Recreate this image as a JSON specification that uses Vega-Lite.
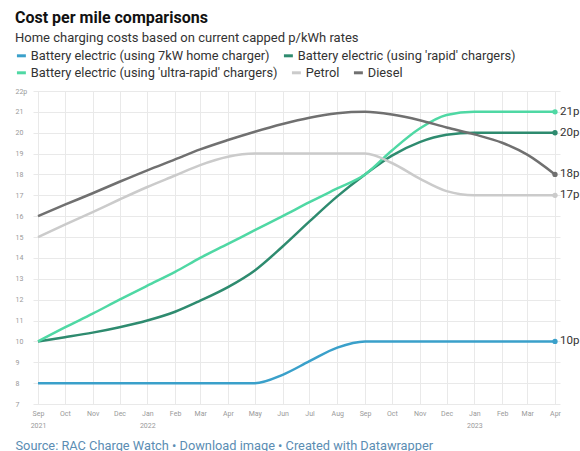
{
  "$schema": "https://vega.github.io/schema/vega-lite/v6.json",
  "autosize": "none",
  "width": 527,
  "height": 313,
  "padding": {"left": 33, "top": 91, "right": 20, "bottom": 47},
  "background": "white",
  "config": {
    "view": {"stroke": null},
    "font": "Roboto",
    "legend": {
      "title": null,
      "orient": "none",
      "direction": "horizontal",
      "symbolType": "stroke",
      "symbolStrokeWidth": 3,
      "symbolSize": 80,
      "labelFont": "Roboto",
      "labelFontSize": 12.8,
      "labelColor": "#333333",
      "labelLimit": 400,
      "columnPadding": 7,
      "labelOffset": 3
    }
  },
  "title": {
    "text": "Cost per mile comparisons",
    "subtitle": "Home charging costs based on current capped p/kWh rates",
    "anchor": "start",
    "frame": "group",
    "dx": -18,
    "font": "Roboto",
    "fontSize": 16,
    "fontWeight": "bold",
    "color": "#111111",
    "subtitleFont": "Roboto",
    "subtitleFontSize": 13,
    "subtitleColor": "#333333",
    "subtitlePadding": 6,
    "offset": 4
  },
  "data": {
    "values": [
      {"date": "2021-09-01", "series": "Battery electric (using 7kW home charger)", "value": 8},
      {"date": "2021-10-01", "series": "Battery electric (using 7kW home charger)", "value": 8},
      {"date": "2021-11-01", "series": "Battery electric (using 7kW home charger)", "value": 8},
      {"date": "2021-12-01", "series": "Battery electric (using 7kW home charger)", "value": 8},
      {"date": "2022-01-01", "series": "Battery electric (using 7kW home charger)", "value": 8},
      {"date": "2022-02-01", "series": "Battery electric (using 7kW home charger)", "value": 8},
      {"date": "2022-03-01", "series": "Battery electric (using 7kW home charger)", "value": 8},
      {"date": "2022-04-01", "series": "Battery electric (using 7kW home charger)", "value": 8},
      {"date": "2022-05-01", "series": "Battery electric (using 7kW home charger)", "value": 8},
      {"date": "2022-06-01", "series": "Battery electric (using 7kW home charger)", "value": 8.4},
      {"date": "2022-07-01", "series": "Battery electric (using 7kW home charger)", "value": 9.05},
      {"date": "2022-08-01", "series": "Battery electric (using 7kW home charger)", "value": 9.7},
      {"date": "2022-09-01", "series": "Battery electric (using 7kW home charger)", "value": 10},
      {"date": "2022-10-01", "series": "Battery electric (using 7kW home charger)", "value": 10},
      {"date": "2022-11-01", "series": "Battery electric (using 7kW home charger)", "value": 10},
      {"date": "2022-12-01", "series": "Battery electric (using 7kW home charger)", "value": 10},
      {"date": "2023-01-01", "series": "Battery electric (using 7kW home charger)", "value": 10},
      {"date": "2023-02-01", "series": "Battery electric (using 7kW home charger)", "value": 10},
      {"date": "2023-03-01", "series": "Battery electric (using 7kW home charger)", "value": 10},
      {"date": "2023-04-01", "series": "Battery electric (using 7kW home charger)", "value": 10},

      {"date": "2021-09-01", "series": "Battery electric (using 'rapid' chargers)", "value": 10},
      {"date": "2021-10-01", "series": "Battery electric (using 'rapid' chargers)", "value": 10.2},
      {"date": "2021-11-01", "series": "Battery electric (using 'rapid' chargers)", "value": 10.42},
      {"date": "2021-12-01", "series": "Battery electric (using 'rapid' chargers)", "value": 10.68},
      {"date": "2022-01-01", "series": "Battery electric (using 'rapid' chargers)", "value": 11.0},
      {"date": "2022-02-01", "series": "Battery electric (using 'rapid' chargers)", "value": 11.42},
      {"date": "2022-03-01", "series": "Battery electric (using 'rapid' chargers)", "value": 11.95},
      {"date": "2022-04-01", "series": "Battery electric (using 'rapid' chargers)", "value": 12.6},
      {"date": "2022-05-01", "series": "Battery electric (using 'rapid' chargers)", "value": 13.4},
      {"date": "2022-06-01", "series": "Battery electric (using 'rapid' chargers)", "value": 14.55},
      {"date": "2022-07-01", "series": "Battery electric (using 'rapid' chargers)", "value": 15.75},
      {"date": "2022-08-01", "series": "Battery electric (using 'rapid' chargers)", "value": 16.95},
      {"date": "2022-09-01", "series": "Battery electric (using 'rapid' chargers)", "value": 18.0},
      {"date": "2022-10-01", "series": "Battery electric (using 'rapid' chargers)", "value": 18.9},
      {"date": "2022-11-01", "series": "Battery electric (using 'rapid' chargers)", "value": 19.55},
      {"date": "2022-12-01", "series": "Battery electric (using 'rapid' chargers)", "value": 19.9},
      {"date": "2023-01-01", "series": "Battery electric (using 'rapid' chargers)", "value": 20},
      {"date": "2023-02-01", "series": "Battery electric (using 'rapid' chargers)", "value": 20},
      {"date": "2023-03-01", "series": "Battery electric (using 'rapid' chargers)", "value": 20},
      {"date": "2023-04-01", "series": "Battery electric (using 'rapid' chargers)", "value": 20},

      {"date": "2021-09-01", "series": "Battery electric (using 'ultra-rapid' chargers)", "value": 10},
      {"date": "2021-10-01", "series": "Battery electric (using 'ultra-rapid' chargers)", "value": 10.67},
      {"date": "2021-11-01", "series": "Battery electric (using 'ultra-rapid' chargers)", "value": 11.33},
      {"date": "2021-12-01", "series": "Battery electric (using 'ultra-rapid' chargers)", "value": 12.0},
      {"date": "2022-01-01", "series": "Battery electric (using 'ultra-rapid' chargers)", "value": 12.67},
      {"date": "2022-02-01", "series": "Battery electric (using 'ultra-rapid' chargers)", "value": 13.33},
      {"date": "2022-03-01", "series": "Battery electric (using 'ultra-rapid' chargers)", "value": 14.0},
      {"date": "2022-04-01", "series": "Battery electric (using 'ultra-rapid' chargers)", "value": 14.67},
      {"date": "2022-05-01", "series": "Battery electric (using 'ultra-rapid' chargers)", "value": 15.33},
      {"date": "2022-06-01", "series": "Battery electric (using 'ultra-rapid' chargers)", "value": 16.0},
      {"date": "2022-07-01", "series": "Battery electric (using 'ultra-rapid' chargers)", "value": 16.67},
      {"date": "2022-08-01", "series": "Battery electric (using 'ultra-rapid' chargers)", "value": 17.33},
      {"date": "2022-09-01", "series": "Battery electric (using 'ultra-rapid' chargers)", "value": 18.0},
      {"date": "2022-10-01", "series": "Battery electric (using 'ultra-rapid' chargers)", "value": 19.15},
      {"date": "2022-11-01", "series": "Battery electric (using 'ultra-rapid' chargers)", "value": 20.2},
      {"date": "2022-12-01", "series": "Battery electric (using 'ultra-rapid' chargers)", "value": 20.85},
      {"date": "2023-01-01", "series": "Battery electric (using 'ultra-rapid' chargers)", "value": 21},
      {"date": "2023-02-01", "series": "Battery electric (using 'ultra-rapid' chargers)", "value": 21},
      {"date": "2023-03-01", "series": "Battery electric (using 'ultra-rapid' chargers)", "value": 21},
      {"date": "2023-04-01", "series": "Battery electric (using 'ultra-rapid' chargers)", "value": 21},

      {"date": "2021-09-01", "series": "Petrol", "value": 15},
      {"date": "2021-10-01", "series": "Petrol", "value": 15.6},
      {"date": "2021-11-01", "series": "Petrol", "value": 16.2},
      {"date": "2021-12-01", "series": "Petrol", "value": 16.8},
      {"date": "2022-01-01", "series": "Petrol", "value": 17.4},
      {"date": "2022-02-01", "series": "Petrol", "value": 17.95},
      {"date": "2022-03-01", "series": "Petrol", "value": 18.45},
      {"date": "2022-04-01", "series": "Petrol", "value": 18.85},
      {"date": "2022-05-01", "series": "Petrol", "value": 19},
      {"date": "2022-06-01", "series": "Petrol", "value": 19},
      {"date": "2022-07-01", "series": "Petrol", "value": 19},
      {"date": "2022-08-01", "series": "Petrol", "value": 19},
      {"date": "2022-09-01", "series": "Petrol", "value": 19},
      {"date": "2022-10-01", "series": "Petrol", "value": 18.55},
      {"date": "2022-11-01", "series": "Petrol", "value": 17.8},
      {"date": "2022-12-01", "series": "Petrol", "value": 17.2},
      {"date": "2023-01-01", "series": "Petrol", "value": 17},
      {"date": "2023-02-01", "series": "Petrol", "value": 17},
      {"date": "2023-03-01", "series": "Petrol", "value": 17},
      {"date": "2023-04-01", "series": "Petrol", "value": 17},

      {"date": "2021-09-01", "series": "Diesel", "value": 16},
      {"date": "2021-10-01", "series": "Diesel", "value": 16.55},
      {"date": "2021-11-01", "series": "Diesel", "value": 17.1},
      {"date": "2021-12-01", "series": "Diesel", "value": 17.65},
      {"date": "2022-01-01", "series": "Diesel", "value": 18.2},
      {"date": "2022-02-01", "series": "Diesel", "value": 18.72},
      {"date": "2022-03-01", "series": "Diesel", "value": 19.2},
      {"date": "2022-04-01", "series": "Diesel", "value": 19.65},
      {"date": "2022-05-01", "series": "Diesel", "value": 20.05},
      {"date": "2022-06-01", "series": "Diesel", "value": 20.42},
      {"date": "2022-07-01", "series": "Diesel", "value": 20.72},
      {"date": "2022-08-01", "series": "Diesel", "value": 20.93},
      {"date": "2022-09-01", "series": "Diesel", "value": 21.0},
      {"date": "2022-10-01", "series": "Diesel", "value": 20.87},
      {"date": "2022-11-01", "series": "Diesel", "value": 20.6},
      {"date": "2022-12-01", "series": "Diesel", "value": 20.25},
      {"date": "2023-01-01", "series": "Diesel", "value": 19.92},
      {"date": "2023-02-01", "series": "Diesel", "value": 19.52},
      {"date": "2023-03-01", "series": "Diesel", "value": 18.95},
      {"date": "2023-04-01", "series": "Diesel", "value": 18.0}
    ]
  },
  "encoding": {
    "x": {
      "field": "date",
      "type": "temporal",
      "scale": {"type": "utc", "nice": false, "padding": 5},
      "axis": {
        "domain": false,
        "ticks": false,
        "grid": true,
        "gridColor": "#e9e9e9",
        "tickCount": {"interval": "month", "step": 1},
        "labelExpr": "(utcmonth(datum.value) == 0 || (utcyear(datum.value) == 2021 && utcmonth(datum.value) == 8)) ? [utcFormat(datum.value, '%b'), utcFormat(datum.value, '%Y')] : utcFormat(datum.value, '%b')",
        "labelFont": "Roboto",
        "labelFontSize": 7,
        "labelColor": "#999999",
        "labelPadding": 5,
        "labelLineHeight": 12,
        "labelOverlap": false,
        "labelFlush": false,
        "title": "Source: RAC Charge Watch • Download image • Created with Datawrapper",
        "titleFont": "Roboto",
        "titleFontSize": 12.8,
        "titleFontWeight": "normal",
        "titleColor": "#5b8db3",
        "titleAnchor": "start",
        "titleAlign": "left",
        "titleBaseline": "alphabetic",
        "titleX": -18,
        "titleY": 45
      }
    },
    "y": {
      "field": "value",
      "type": "quantitative",
      "scale": {"domain": [7, 22], "nice": false, "zero": false},
      "axis": {
        "values": [7, 8, 9, 10, 11, 12, 13, 14, 15, 16, 17, 18, 19, 20, 21, 22],
        "labelExpr": "datum.value == 22 ? '22p' : datum.label",
        "domain": false,
        "ticks": false,
        "grid": true,
        "gridColor": "#e9e9e9",
        "labelAlign": "left",
        "labelPadding": 18,
        "labelFont": "Roboto",
        "labelFontSize": 7,
        "labelColor": "#999999",
        "title": null
      }
    }
  },
  "layer": [
    {
      "transform": [{"filter": {"field": "series", "oneOf": ["Battery electric (using 7kW home charger)", "Battery electric (using 'rapid' chargers)"]}}],
      "mark": {"type": "line", "interpolate": "monotone", "strokeWidth": 2.5},
      "encoding": {
        "color": {
          "field": "series",
          "type": "nominal",
          "scale": {"domain": ["Battery electric (using 7kW home charger)", "Battery electric (using 'rapid' chargers)"], "range": ["#3aa0ca", "#2e8b6f"]},
          "legend": {"legendX": -18, "legendY": -42}
        }
      }
    },
    {
      "transform": [{"filter": {"field": "series", "oneOf": ["Battery electric (using 'ultra-rapid' chargers)", "Petrol", "Diesel"]}}],
      "mark": {"type": "line", "interpolate": "monotone", "strokeWidth": 2.5},
      "encoding": {
        "color": {
          "field": "series",
          "type": "nominal",
          "scale": {"domain": ["Battery electric (using 'ultra-rapid' chargers)", "Petrol", "Diesel"], "range": ["#4fd8a4", "#cbcbcb", "#707070"]},
          "legend": {"legendX": -18, "legendY": -25}
        }
      }
    },
    {
      "transform": [{"filter": "utcyear(datum.date) == 2023 && utcmonth(datum.date) == 3"}],
      "mark": {"type": "point", "filled": true, "size": 28, "opacity": 1},
      "encoding": {
        "color": {
          "field": "series",
          "type": "nominal",
          "scale": {"domain": ["Battery electric (using 7kW home charger)", "Battery electric (using 'rapid' chargers)", "Battery electric (using 'ultra-rapid' chargers)", "Petrol", "Diesel"], "range": ["#3aa0ca", "#2e8b6f", "#4fd8a4", "#cbcbcb", "#707070"]},
          "legend": null
        }
      }
    },
    {
      "transform": [
        {"filter": "utcyear(datum.date) == 2023 && utcmonth(datum.date) == 3"},
        {"calculate": "datum.value + 'p'", "as": "label"}
      ],
      "mark": {"type": "text", "align": "left", "baseline": "middle", "dx": 5, "font": "Roboto", "fontSize": 11.5, "color": "#333333"},
      "encoding": {"text": {"field": "label", "type": "nominal"}}
    }
  ],
  "resolve": {"scale": {"color": "independent"}}
}
